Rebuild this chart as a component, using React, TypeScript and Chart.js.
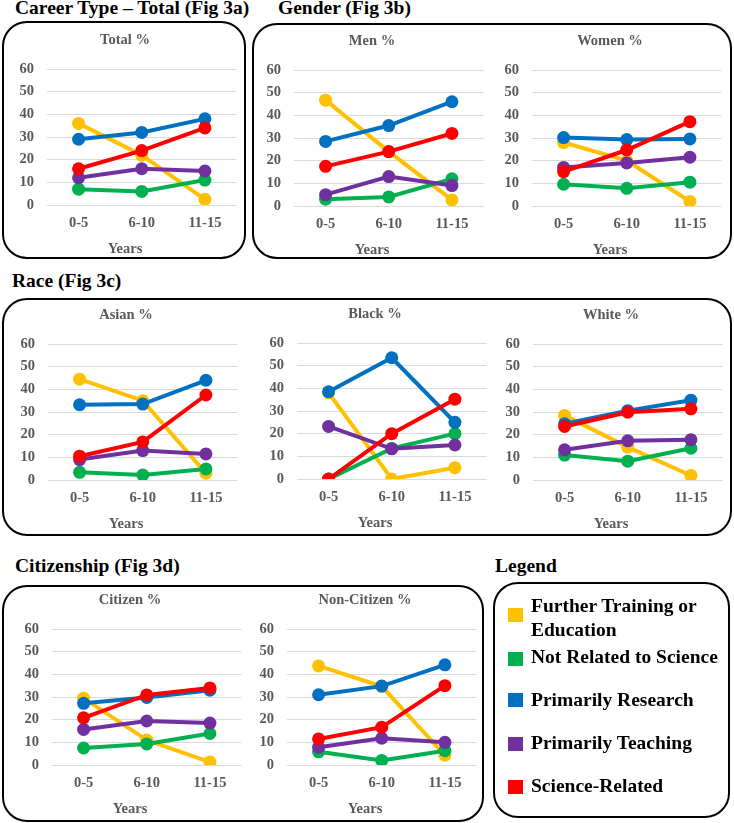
import React, { useEffect, useRef } from 'react';
import { Chart, registerables } from 'chart.js';

Chart.register(...registerables);

// ---- Data ----
const categories = ['0-5', '6-10', '11-15'];
const xAxisLabel = 'Years';
const yMin = 0;
const yMax = 60;
const yStep = 10;

const seriesNames = [
  'Further Training or Education',
  'Not Related to Science',
  'Primarily Research',
  'Primarily Teaching',
  'Science-Related',
];
const seriesColors = ['#FFC000', '#00B050', '#0070C0', '#7030A0', '#FF0000'];

// values per panel, in series order: Further, NotRelated, Research, Teaching, ScienceRelated
const totalPct = [[36, 22, 2.5], [7, 6, 11], [29, 32, 38], [12, 16, 15], [16, 24, 34]];
const menPct = [[46.7, 24, 2.7], [3, 4, 12], [28.5, 35.5, 46], [5, 13, 9], [17.5, 24, 32]];
const womenPct = [[28, 20, 2], [9.6, 7.8, 10.5], [30.2, 29.3, 29.6], [17, 19, 21.5], [15.2, 24.7, 37.2]];
const asianPct = [[44.5, 35, 3], [3.4, 2.2, 4.9], [33.2, 33.5, 44], [9, 13, 11.5], [10.5, 16.8, 37.5]];
const blackPct = [[38, 0, 5], [0, 13.5, 20], [38.5, 53.5, 25], [23.2, 13.3, 15], [0, 20, 35.2]];
const whitePct = [[28.5, 14.5, 2], [11, 8.3, 14], [24.8, 30.6, 35.2], [13.3, 17.3, 17.8], [23.6, 29.9, 31.4]];
const citizenPct = [[29.5, 11, 1.3], [7.5, 9.3, 13.9], [27.2, 29.8, 33], [15.7, 19.4, 18.5], [20.8, 30.9, 34]];
const nonCitizenPct = [[43.7, 34.7, 4.3], [5.8, 2, 6.3], [31, 34.8, 44.2], [7.8, 11.8, 10], [11.5, 16.7, 35]];

// ---- Styling ----
const FONT = "'Liberation Serif', 'Times New Roman', Times, serif";
const GRAY = '#595959';
const GRID = '#D9D9D9';
const SMALL = 14.5;

const PLOT_W = 177;
const PLOT_H = 136;
const Y_AXIS_W = 40;
const TITLE_BLOCK = 45;
const X_AXIS_H = 28;
const CANVAS_W = 236;
const CANVAS_H = 236;

type Panel = { title: string; values: number[][]; left: number; top: number };

const panels: Panel[] = [
  { title: 'Total %', values: totalPct, left: 47, top: 69 },
  { title: 'Men %', values: menPct, left: 294, top: 70 },
  { title: 'Women %', values: womenPct, left: 532, top: 70 },
  { title: 'Asian %', values: asianPct, left: 48, top: 344 },
  { title: 'Black %', values: blackPct, left: 297, top: 343 },
  { title: 'White %', values: whitePct, left: 533, top: 344 },
  { title: 'Citizen %', values: citizenPct, left: 52, top: 629 },
  { title: 'Non-Citizen %', values: nonCitizenPct, left: 287, top: 629 },
];

function LineChart({ title, values, left, top }: Panel) {
  const ref = useRef<HTMLCanvasElement>(null);
  useEffect(() => {
    const font = { family: FONT, size: SMALL, weight: 'bold' as const, lineHeight: 1.2 };
    const chart = new Chart(ref.current as HTMLCanvasElement, {
      type: 'line',
      data: {
        labels: categories,
        datasets: seriesNames.map((name, i) => ({
          label: name,
          data: values[i],
          borderColor: seriesColors[i],
          backgroundColor: seriesColors[i],
          pointBackgroundColor: seriesColors[i],
          pointBorderColor: seriesColors[i],
          borderWidth: 4,
          pointRadius: 6.5,
          pointBorderWidth: 0,
          tension: 0,
          fill: false,
          order: seriesNames.length - i,
        })),
      },
      options: {
        responsive: false,
        animation: false,
        devicePixelRatio: 1,
        layout: { padding: 0 },
        plugins: {
          legend: { display: false },
          tooltip: { enabled: false },
          title: {
            display: true,
            text: title,
            color: GRAY,
            font,
            padding: { top: 7.3, bottom: 20.3 },
          },
          subtitle: {
            display: true,
            position: 'bottom',
            text: xAxisLabel,
            color: GRAY,
            font,
            padding: { top: 7.3, bottom: 2.3 },
          },
        },
        scales: {
          x: {
            offset: true,
            grid: { display: false, drawTicks: false },
            border: { display: false },
            ticks: { color: GRAY, font, padding: 9.3, maxRotation: 0, autoSkip: false },
            afterFit: (s: any) => {
              s.height = X_AXIS_H;
            },
          },
          y: {
            min: yMin,
            max: yMax,
            ticks: { stepSize: yStep, color: GRAY, font, padding: 13 },
            grid: { color: GRID, lineWidth: 1, drawTicks: false },
            border: { display: false },
            afterFit: (s: any) => {
              s.width = Y_AXIS_W;
            },
          },
        },
      },
    } as any);
    return () => chart.destroy();
  }, [title, values]);
  return (
    <canvas
      ref={ref}
      width={CANVAS_W}
      height={CANVAS_H}
      style={{
        position: 'absolute',
        left: left - Y_AXIS_W,
        top: top - TITLE_BLOCK,
        width: CANVAS_W,
        height: CANVAS_H,
      }}
    />
  );
}

const HEAD = 19.5;
function Heading({ x, baseline, text }: { x: number; baseline: number; text: string }) {
  return (
    <div
      style={{
        position: 'absolute',
        left: x,
        top: baseline - 0.8375 * HEAD,
        font: `bold ${HEAD}px ${FONT}`,
        lineHeight: `${HEAD}px`,
        whiteSpace: 'nowrap',
        color: '#000',
      }}
    >
      {text}
    </div>
  );
}

function Box({ l, t, w, h }: { l: number; t: number; w: number; h: number }) {
  return (
    <div
      style={{
        position: 'absolute',
        left: l,
        top: t,
        width: w,
        height: h,
        boxSizing: 'border-box',
        border: '2px solid #000',
        borderRadius: 25,
      }}
    />
  );
}

const legendBaselines = [613, 664, 707, 750, 793];
const legendSquareTops = [608, 651.5, 693, 737, 780];

export default function App() {
  return (
    <div
      style={{
        position: 'absolute',
        left: 0,
        top: 0,
        width: 734,
        height: 823,
        background: '#fff',
        overflow: 'hidden',
      }}
    >
      <Box l={2} t={21} w={244} h={238} />
      <Box l={252} t={23} w={480} h={236} />
      <Box l={2} t={298} w={730} h={238} />
      <Box l={2} t={585} w={482} h={237} />
      <Box l={493} t={582} w={237} h={236} />

      <Heading x={15} baseline={14} text="Career Type – Total (Fig 3a)" />
      <Heading x={278} baseline={14} text="Gender (Fig 3b)" />
      <Heading x={12} baseline={287} text="Race (Fig 3c)" />
      <Heading x={15} baseline={572} text="Citizenship (Fig 3d)" />
      <Heading x={495} baseline={572} text="Legend" />

      {panels.map((p) => (
        <LineChart key={p.title} {...p} />
      ))}

      {seriesNames.map((name, i) => (
        <React.Fragment key={name}>
          <div
            style={{
              position: 'absolute',
              left: 508,
              top: legendSquareTops[i],
              width: 15,
              height: 14,
              background: seriesColors[i],
            }}
          />
          <div
            style={{
              position: 'absolute',
              left: 531,
              top: legendBaselines[i] - 18.57,
              width: 195,
              font: `bold ${HEAD}px ${FONT}`,
              lineHeight: '24px',
              color: '#000',
            }}
          >
            {name}
          </div>
        </React.Fragment>
      ))}
    </div>
  );
}
